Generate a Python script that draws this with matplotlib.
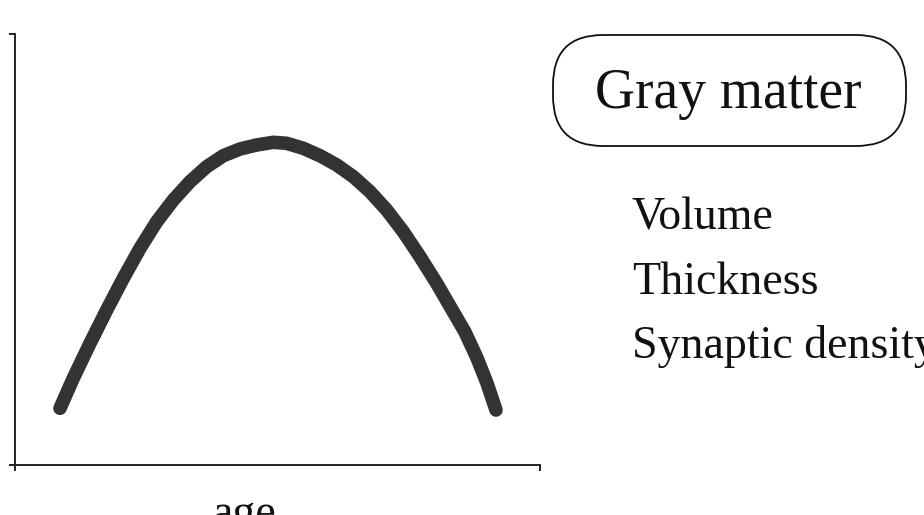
import matplotlib.pyplot as plt
from matplotlib.patches import FancyBboxPatch

# curve (age 0-100, value 0-100)
age = [8.57, 11.10, 14.29, 17.47, 20.63, 23.81, 26.99, 30.15, 33.33, 36.51,
       39.68, 42.86, 46.04, 49.20, 51.75, 54.91, 58.10, 61.28, 64.44, 67.62,
       70.80, 73.96, 77.14, 80.32, 83.49, 85.71, 88.00, 89.90, 91.62]
gray = [13.16, 20.12, 28.24, 35.96, 43.32, 50.28, 56.45, 61.48, 65.73, 69.21,
        71.76, 73.32, 74.25, 74.87, 74.64, 73.48, 71.76, 69.61, 66.89, 63.41,
        59.16, 54.13, 48.33, 42.16, 35.50, 30.86, 24.83, 19.00, 12.76]

title = "Gray matter"
measures = ["Volume", "Thickness", "Synaptic density"]
xlabel = "age"

serif = ["Liberation Serif", "DejaVu Serif"]

fig = plt.figure(figsize=(9.24, 5.15), dpi=100)

# main axes
ax = fig.add_axes([15 / 924, 50 / 515, 525 / 924, 431 / 515])
ax.plot(age, gray, color="#333333", lw=9.8, solid_capstyle="round",
        solid_joinstyle="round")
ax.set_xlim(0, 100)
ax.set_ylim(0, 100)
for s in ["top", "right"]:
    ax.spines[s].set_visible(False)
for s in ["left", "bottom"]:
    ax.spines[s].set_linewidth(1.4)
    ax.spines[s].set_color("#222222")
ax.set_xticks([0, 100])
ax.set_yticks([0, 100])
ax.set_xticklabels([])
ax.set_yticklabels([])
ax.tick_params(direction="out", length=4.5, width=1.4, color="#222222")

# overlay in pixel coordinates for the box and texts
ov = fig.add_axes([0, 0, 1, 1])
ov.set_xlim(0, 924)
ov.set_ylim(515, 0)
ov.axis("off")
ov.patch.set_alpha(0)

box = FancyBboxPatch((553, 35), 353, 111,
                     boxstyle="round,pad=0,rounding_size=50",
                     fc="white", ec="#111111", lw=1.3)
ov.add_patch(box)
ov.text(595, 108, title, fontsize=40, family=serif, va="baseline",
        ha="left", color="#111111")

for i, m in enumerate(measures):
    ov.text(632, 230 + i * 64, m, fontsize=33, family=serif,
            va="baseline", ha="left", color="#111111")

ov.text(244, 526, xlabel, fontsize=33, family=serif, va="baseline",
        ha="center", color="#111111")

fig.savefig("out.png", dpi=100)
